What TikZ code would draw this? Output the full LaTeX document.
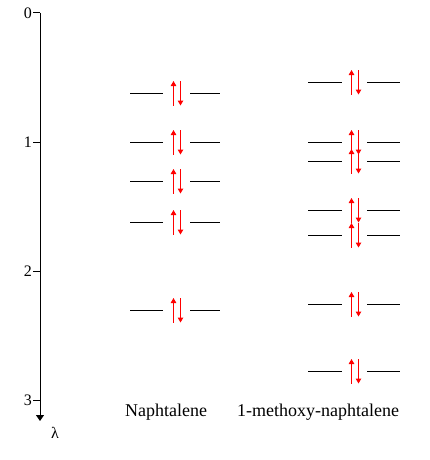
\documentclass[tikz,border=0pt]{standalone}
\usepackage{fontspec}
\setmainfont{Liberation Serif}
\usetikzlibrary{arrows.meta}
\begin{document}
\begin{tikzpicture}[x=1pt,y=-1pt,
  level/.style={line width=1pt,black},
  spin/.style={line width=1pt,red,-{Triangle[width=5.5pt,length=5pt]}},
  axis/.style={line width=1pt,black},
  ticklabel/.style={font=\fontsize{16}{16}\selectfont,anchor=east,inner sep=0pt},
  molname/.style={font=\fontsize{18}{18}\selectfont,inner sep=0pt}]
\useasboundingbox (0,0) rectangle (430,460);
% axis
\coordinate (atop) at (40,13);
\coordinate (abot) at (40,421);
\draw[axis,-{Triangle[width=8pt,length=6pt]}] (atop) -- (abot);
\foreach \v/\yy in {0/13,1/142,2/271,3/400}{
  \coordinate (t\v) at (40,\yy);
  \draw[axis] (t\v) -- ++(-7,0);
  \node[ticklabel] (l\v) at (32,\yy) {\v};
}
\node[font=\fontsize{16}{16}\selectfont,inner sep=0pt] (lam) at (55,433) {λ};
% Naphtalene levels
\foreach \i/\yy in {1/93,2/142,3/181,4/222,5/310}{
  \coordinate (na\i) at (130,\yy);
  \coordinate (nb\i) at (163,\yy);
  \coordinate (nc\i) at (190,\yy);
  \coordinate (nd\i) at (220,\yy);
  \draw[level] (na\i) -- (nb\i);
  \draw[level] (nc\i) -- (nd\i);
  \coordinate (nu\i) at (173.5,\yy+12.5);
  \coordinate (nv\i) at (173.5,\yy-12);
  \coordinate (nw\i) at (180.5,\yy-12);
  \coordinate (nx\i) at (180.5,\yy+12.5);
  \draw[spin] (nu\i) -- (nv\i);
  \draw[spin] (nw\i) -- (nx\i);
}
% 1-methoxy-naphtalene levels
\foreach \i/\yy in {1/82,2/142,3/161,4/210,5/235,6/304,7/371}{
  \coordinate (ma\i) at (308,\yy);
  \coordinate (mb\i) at (342,\yy);
  \coordinate (mc\i) at (367,\yy);
  \coordinate (md\i) at (400,\yy);
  \draw[level] (ma\i) -- (mb\i);
  \draw[level] (mc\i) -- (md\i);
  \coordinate (mu\i) at (351.5,\yy+12.5);
  \coordinate (mv\i) at (351.5,\yy-12);
  \coordinate (mw\i) at (358.5,\yy-12);
  \coordinate (mx\i) at (358.5,\yy+12.5);
  \draw[spin] (mu\i) -- (mv\i);
  \draw[spin] (mw\i) -- (mx\i);
}
\node[molname] (naph) at (166,412) {Naphtalene};
\node[molname] (meth) at (318,412) {1-methoxy-naphtalene};
\end{tikzpicture}
\end{document}
